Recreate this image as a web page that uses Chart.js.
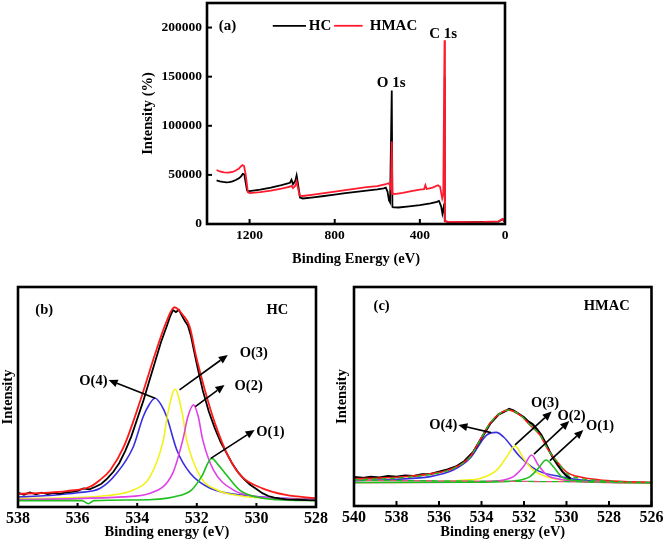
<!DOCTYPE html>
<html><head><meta charset="utf-8">
<script src="https://cdn.jsdelivr.net/npm/chart.js@4.4.1/dist/chart.umd.min.js"></script>
<style>
html,body{margin:0;padding:0;background:#fff;}
#wrap{position:relative;width:663px;height:542px;overflow:hidden;background:#fff;}
canvas{position:absolute;left:0;top:0;}
</style></head><body>
<div id="wrap">
<canvas id="ca" width="663" height="542"></canvas>
<canvas id="cb" width="663" height="542"></canvas>
<canvas id="cc" width="663" height="542"></canvas>
</div>
<script>
// ---------- Panel (a): survey spectra ----------
const aTicksX = [0, 400, 800, 1200];
const aTicksY = [0, 50000, 100000, 150000, 200000];
const hcEnergy = [1355,1340,1325,1310,1295,1280,1265,1250,1240,1232,1225,1218,1212,1200,1150,1100,1050,1010,1003,996,985,979,972,963,950,900,850,800,750,700,650,600,570,560,552,545,540,532,529,525,520,500,450,400,350,320,310,300,294,288,285,284,282,270,200,100,30,15,10,5,0];
const hcCounts = [44500,43500,42800,42300,42600,43500,44800,46500,48500,51000,50500,42000,34000,33500,35000,37000,39500,42000,45000,40500,44000,49500,40000,27000,26000,27200,28500,30000,31500,32800,34000,35200,36200,37000,33000,24000,22000,136000,17500,17000,17000,16800,18000,19200,21000,22500,23500,18000,10500,17000,21000,150000,3000,2200,2000,2100,2500,4500,4800,3000,2500];
const hmacEnergy = [1355,1340,1320,1300,1280,1265,1250,1240,1233,1226,1218,1208,1200,1150,1100,1050,1010,1003,996,985,979,972,965,950,900,850,800,750,700,650,600,560,548,540,536,532,529,524,520,480,440,400,380,374,368,340,315,305,295,290,284,282,270,200,100,30,15,10,5,0];
const hmacCounts = [55000,53500,52600,52400,53000,54500,56500,58800,60000,59000,50000,32500,31500,32500,34000,36000,38000,39000,36500,39000,43500,36000,29000,28500,30000,31500,33000,34500,36000,37500,38500,40500,41500,39500,36000,84000,30500,30800,30500,31800,33500,35000,35500,39500,35600,37000,39500,38000,26000,30000,187000,3000,2300,2000,2100,2600,4800,5200,3000,2500];
const aLabels = [{x:1304,y:201800,text:'(a)'},{x:290.5,y:193400,text:'C 1s'},{x:534.8,y:143300,text:'O 1s'}];
const aLegendX = [[1091,935,869],[803,669,524]]; // line start, line end, label centre (data units)
const aLegendY = 201800;

// ---------- Panel (b): HC O 1s ----------
const bTicksX = [528,530,532,534,536,538];
const bRawE = [538,537.8,537.6,537.4,537.2,537.0,536.8,536.6,536.4,536.2,536.0,535.8,535.6,535.4,535.2,535.0,534.8,534.6,534.4,534.2,534.0,533.8,533.6,533.4,533.2,533.0,532.9,532.8,532.7,532.6,532.5,532.4,532.3,532.2,532.1,532.0,531.9,531.8,531.6,531.4,531.2,531.0,530.8,530.6,530.4,530.2,530.0,529.8,529.6,529.4,529.2,529.0,528.6,528.3,528.0];
const bRawI = [6.4,5.6,6.6,5.8,6.5,5.9,6.4,6.0,6.6,6.9,7.3,8.4,8.0,9.2,10.6,13.0,16.0,20.0,25.5,32.0,40.0,48.0,57.0,66.0,75.0,82.5,86.5,89.5,88.6,89.6,87.0,84.5,82.5,78.0,71.5,65.0,59.0,53.0,43.5,36.0,29.5,24.5,19.5,15.5,12.5,10.0,8.2,6.3,5.0,4.3,3.8,3.5,3.3,3.1,3.0];
const bFitE = [538,537,536.38,535.59,535.25,534.9,534.45,533.89,533.43,533.04,532.75,532.47,532.24,532.02,531.73,531.39,530.94,530.49,529.8,529.01,528];
const bFitI = [6.0,6.5,7.2,9.2,12.3,16.8,27.4,48.6,68.3,83.5,90.8,87.3,82,68.3,53.2,38,22.9,13.8,8.5,5.5,4];
const bO4E = [538,537,536,535.24,534.69,534.13,533.8,533.6,533.4,533.2,533.01,532.67,532.22,531.55,530.2,529,528];
const bO4I = [4.5,5.2,6.5,8.5,15.3,27.4,41,46.5,49.4,46.5,41,25.9,15.3,8.5,5,4,3.7];
const bO3E = [538,536,535,534.13,533.57,533.12,532.98,532.73,532.48,532.34,531.88,531.32,530.5,529.5,528];
const bO3I = [3.8,4.3,5.2,7.7,13.8,30.5,42,53.5,42,30.5,13.8,7.7,5,3.9,3.4];
const bO2E = [538,536,534.5,533.57,532.81,532.47,532.3,532.11,531.95,531.8,531.44,530.77,530,529,528];
const bO2I = [3.4,3.8,4.6,6.2,15.3,30.5,41,46.4,41,30.5,16.8,7.7,4.8,3.7,3.3];
const bO1E = [538,536.2,535.85,535.64,535.45,534,532.74,532.18,531.84,531.5,531.3,531.0,530.56,530,529.3,528];
const bO1I = [2.9,2.9,2.9,1.5,2.9,3.2,4.7,7.7,13.8,22.1,19.5,14.5,7.7,4.5,3.3,2.9];
const bLabels = [{x:537.12,y:89.5,text:'(b)'},{x:529.3,y:89.5,text:'HC'},{x:535.47,y:57,text:'O(4)'},{x:530.09,y:69.8,text:'O(3)'},{x:530.26,y:54.7,text:'O(2)'},{x:529.53,y:34.2,text:'O(1)'}];
const bArrows = [[533.4,49.4,534.96,57.7],[532.58,53.2,530.96,69.1],[532.05,45.6,531.07,55.5],[531.53,22.1,530.06,35]];

// ---------- Panel (c): HMAC O 1s ----------
const cTicksX = [526,528,530,532,534,536,538,540];
const cRawE = [540,539.6,539.2,538.8,538.4,538.0,537.6,537.2,536.8,536.4,536.0,535.6,535.2,534.8,534.4,534.0,533.6,533.2,532.9,532.7,532.5,532.3,532.0,531.8,531.6,531.4,531.2,531.0,530.8,530.6,530.4,530.2,530.0,529.8];
const cRawI = [13.2,12.8,13.3,13.0,13.6,13.3,13.9,13.7,14.5,14.6,15.6,16.6,18.0,20.5,24.5,31,37.5,41.8,43.2,44.3,43.6,42.4,40.5,38.6,37.4,35.2,32.6,29,25,21.5,18.5,15.8,13.8,12.5];
const cFitE = [540,539,538,537.5,536.89,536.2,535.7,535.33,534.9,534.54,534.07,533.6,533.13,532.74,532.19,531.72,531.25,530.86,530.31,529.99,529.36,528.5,527.5,526];
const cFitI = [12.4,12.7,13.1,13.5,14.0,15.0,16.0,17.2,19.5,22.5,30.1,37.8,42.3,43.8,41.6,37,32.4,25.6,18.7,15.5,13.2,12.0,11.3,10.8];
const cEnvI = [12.0,12.3,12.7,13.1,13.7,14.7,15.8,17.0,19.3,22.3,30.0,37.8,42.3,43.8,41.6,37,32.4,25.6,18.7,14.8,12.6,11.6,11.1,10.7];
const cO4E = [540,538,536.42,535.33,534.54,533.76,533.3,532.96,532.19,531.4,530.31,529.3,528,526];
const cO4I = [11.6,12.2,13.4,16.4,21.8,32.4,33.6,31.5,22.5,16.4,13.4,11.8,11,10.6];
const cO3E = [540,536,534.8,534.07,533.28,532.81,532.42,532.03,531.56,530.93,529.8,528,526];
const cO3I = [10.6,11.1,11.8,12.6,16.4,22.5,27.4,21.8,16.4,13.4,11.5,10.8,10.3];
const cO2E = [540,535,533.5,532.5,532.03,531.64,531.33,530.93,530.31,529,526];
const cO2I = [10.7,10.9,11.3,13.4,17.9,23.3,18.7,14.2,12.2,11,10.5];
const cO1E = [540,534,532.5,531.72,531.33,530.96,530.62,530.23,529.6,528,526];
const cO1I = [10.7,10.9,11.4,13.4,17.2,21,17.9,13.4,11.6,10.9,10.6];
const cBaseE = [540,526];
const cBaseI = [11.8,10.8];
const cLabels = [{x:538.7,y:91,text:'(c)'},{x:528.11,y:91,text:'HMAC'},{x:535.8,y:37,text:'O(4)'},{x:531.01,y:46.9,text:'O(3)'},{x:529.76,y:41.1,text:'O(2)'},{x:528.42,y:36.5,text:'O(1)'}];
const cArrows = [[533.55,33.5,535.09,37],[532.42,27.9,530.7,43.1],[531.53,23.7,529.87,38.8],[530.78,20.7,529.21,34.7]];

// ---------- helpers ----------
const FONT = '"Liberation Serif", "Times New Roman", serif';
Chart.defaults.font.family = FONT;
Chart.defaults.font.weight = 'bold';
Chart.defaults.color = '#000';
const pts = (xs, ys) => xs.map((x, i) => ({x, y: ys[i]}));
const ds = (label, xs, ys, color, width, extra) => Object.assign({label, data: pts(xs, ys), borderColor: color, backgroundColor: color, borderWidth: width, pointRadius: 0, fill: false, tension: 0}, extra || {});
const smooth = {cubicInterpolationMode: 'monotone'};

const deco = {
  id: 'deco',
  afterDatasetsDraw(chart, args, o) {
    const {ctx, chartArea: a} = chart;
    const sx = chart.scales.x, sy = chart.scales.y;
    ctx.save();
    ctx.strokeStyle = '#000';
    ctx.fillStyle = '#000';
    ctx.lineWidth = 2;
    if (o.xTicks) sx.ticks.forEach((t, i) => {
      const p = sx.getPixelForTick(i);
      ctx.beginPath(); ctx.moveTo(p, a.bottom); ctx.lineTo(p, a.bottom - o.tickLen); ctx.stroke();
    });
    if (o.yTicks) sy.ticks.forEach((t, i) => {
      const p = sy.getPixelForTick(i);
      ctx.beginPath(); ctx.moveTo(a.left, p); ctx.lineTo(a.left + o.tickLen, p); ctx.stroke();
    });
    ctx.lineWidth = o.frame;
    ctx.strokeRect(a.left, a.top, a.right - a.left, a.bottom - a.top);
    // arrows
    ctx.lineWidth = 1.6;
    (o.arrows || []).forEach(r => {
      const x1 = sx.getPixelForValue(r[0]), y1 = sy.getPixelForValue(r[1]);
      const x2 = sx.getPixelForValue(r[2]), y2 = sy.getPixelForValue(r[3]);
      const ang = Math.atan2(y2 - y1, x2 - x1), L = 9, W = 4;
      const bx = x2 - L * Math.cos(ang), by = y2 - L * Math.sin(ang);
      ctx.beginPath(); ctx.moveTo(x1, y1); ctx.lineTo(bx, by); ctx.stroke();
      ctx.beginPath();
      ctx.moveTo(x2, y2);
      ctx.lineTo(bx + W * Math.sin(ang), by - W * Math.cos(ang));
      ctx.lineTo(bx - W * Math.sin(ang), by + W * Math.cos(ang));
      ctx.closePath(); ctx.fill();
    });
    // legend (a)
    if (o.legend) {
      ctx.font = 'bold 15px ' + FONT;
      ctx.textAlign = 'center'; ctx.textBaseline = 'middle';
      o.legend.forEach((l, i) => {
        const d = chart.data.datasets.find(q => q.label === l.label);
        const y = sy.getPixelForValue(o.legendY);
        ctx.strokeStyle = d.borderColor; ctx.lineWidth = 1.8;
        ctx.beginPath(); ctx.moveTo(sx.getPixelForValue(l.xs[0]), y); ctx.lineTo(sx.getPixelForValue(l.xs[1]), y); ctx.stroke();
        ctx.fillStyle = '#000';
        ctx.fillText(l.label, sx.getPixelForValue(l.xs[2]), y);
      });
    }
    ctx.fillStyle = '#000';
    ctx.textAlign = 'center'; ctx.textBaseline = 'middle';
    (o.labels || []).forEach(t => {
      ctx.font = 'bold ' + (o.labelSize || 15) + 'px ' + FONT;
      ctx.fillText(t.text, sx.getPixelForValue(t.x), sy.getPixelForValue(t.y));
    });
    ctx.restore();
  }
};

function fixTicks(arr) { return s => { s.ticks = arr.map(v => ({value: v})); }; }
function xAxis(min, max, ticks, title, tickSize, tickPad, height, titlePadBottom) {
  return {
    type: 'linear', reverse: true, min, max,
    afterBuildTicks: fixTicks(ticks),
    ticks: {font: {size: tickSize, weight: 'bold'}, color: '#000', padding: tickPad, maxRotation: 0, autoSkip: false, callback: v => String(v)},
    grid: {display: false, drawTicks: false}, border: {display: false},
    title: {display: true, text: title, color: '#000', font: {size: 14.5, weight: 'bold'}, padding: {top: 0, bottom: titlePadBottom}},
    afterFit: s => { s.height = height; s.paddingLeft = 0; s.paddingRight = 0; s.paddingTop = 0; s.paddingBottom = 0; }
  };
}
function yAxis(min, max, ticks, title, width, showTicks, titlePadTop) {
  return {
    type: 'linear', min, max,
    afterBuildTicks: ticks ? fixTicks(ticks) : undefined,
    ticks: {display: showTicks, font: {size: 13.5, weight: 'bold'}, color: '#000', padding: 5, callback: v => String(v)},
    grid: {display: false, drawTicks: false}, border: {display: false},
    title: {display: true, text: title, color: '#000', font: {size: 14.5, weight: 'bold'}, padding: {top: titlePadTop, bottom: 0}},
    afterFit: s => { s.width = width; s.paddingTop = 0; s.paddingBottom = 0; s.paddingLeft = 0; s.paddingRight = 0; }
  };
}
const base = {responsive: false, animation: false, devicePixelRatio: 1, events: []};

// ---------- chart (a) ----------
new Chart(document.getElementById('ca'), {
  type: 'line',
  data: {datasets: [
    ds('HMAC', hmacEnergy, hmacCounts, '#ff1a2e', 1.8, {order: 0}),
    ds('HC', hcEnergy, hcCounts, '#000000', 1.8, {order: 1})
  ]},
  options: Object.assign({}, base, {
    layout: {autoPadding: false, padding: {left: 136, right: 158, top: 3, bottom: 270}},
    scales: {
      x: xAxis(0, 1400, aTicksX, 'Binding Energy (eV)', 13.5, 3, 48, 4),
      y: yAxis(0, 225000, aTicksY, 'Intensity (%)', 71, true, 4)
    },
    plugins: {legend: {display: false}, tooltip: {enabled: false},
      deco: {xTicks: true, yTicks: true, tickLen: 5, frame: 2.6, labels: aLabels, labelSize: 15,
        legend: [{label: 'HC', xs: aLegendX[0]}, {label: 'HMAC', xs: aLegendX[1]}], legendY: aLegendY}}
  }),
  plugins: [deco]
});

// ---------- chart (b) ----------
new Chart(document.getElementById('cb'), {
  type: 'line',
  data: {datasets: [
    ds('Fit', bFitE, bFitI, '#ff1a1a', 1.8, smooth),
    ds('Raw', bRawE, bRawI, '#000000', 1.8),
    ds('O(1)', bO1E, bO1I, '#1fbf1f', 1.6, smooth),
    ds('O(2)', bO2E, bO2I, '#e040e8', 1.6, smooth),
    ds('O(3)', bO3E, bO3I, '#f2f21a', 1.6, smooth),
    ds('O(4)', bO4E, bO4I, '#3a2ee0', 1.6, smooth)
  ]},
  options: Object.assign({}, base, {
    layout: {autoPadding: false, padding: {left: 0, right: 347, top: 287, bottom: 0}},
    scales: {
      x: xAxis(528, 538, bTicksX, 'Binding energy (eV)', 16, 2.5, 35, 1.5),
      y: yAxis(0, 100, null, 'Intensity', 18, false, 0)
    },
    plugins: {legend: {display: false}, tooltip: {enabled: false},
      deco: {xTicks: true, yTicks: false, tickLen: 4, frame: 2.6, labels: bLabels, labelSize: 14.5, arrows: bArrows}}
  }),
  plugins: [deco]
});

// ---------- chart (c) ----------
new Chart(document.getElementById('cc'), {
  type: 'line',
  data: {datasets: [
    ds('Envelope', cFitE, cEnvI, '#22b822', 1.4, Object.assign({borderDash: [5, 4]}, smooth)),
    ds('Fit', cFitE, cFitI, '#ff1a1a', 1.6, smooth),
    ds('Raw', cRawE, cRawI, '#000000', 2.2),
    ds('Base2', cBaseE, cBaseI, '#22b822', 1.3, {borderDash: [6, 6], borderDashOffset: 6}),
    ds('Base', cBaseE, cBaseI, '#d85a78', 1.3, {borderDash: [6, 6]}),
    ds('O(1)', cO1E, cO1I, '#1fbf1f', 1.6, smooth),
    ds('O(2)', cO2E, cO2I, '#e040e8', 1.6, smooth),
    ds('O(3)', cO3E, cO3I, '#f2f21a', 1.6, smooth),
    ds('O(4)', cO4E, cO4I, '#3a2ee0', 1.6, smooth)
  ]},
  options: Object.assign({}, base, {
    layout: {autoPadding: false, padding: {left: 334, right: 11.5, top: 287, bottom: 0}},
    scales: {
      x: xAxis(526, 540, cTicksX, 'Binding energy (eV)', 16, 2.5, 36, 1.5),
      y: yAxis(0, 100, null, 'Intensity', 20, false, 0)
    },
    plugins: {legend: {display: false}, tooltip: {enabled: false},
      deco: {xTicks: true, yTicks: false, tickLen: 5, frame: 2.6, labels: cLabels, labelSize: 14.5, arrows: cArrows}}
  }),
  plugins: [deco]
});
</script>
</body></html>
